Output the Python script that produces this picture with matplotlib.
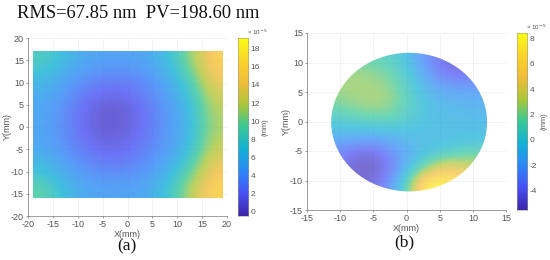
import numpy as np
import matplotlib
matplotlib.use("Agg")
import matplotlib.pyplot as plt
from matplotlib.colors import LinearSegmentedColormap
from matplotlib.patches import Circle

# surface (a), values in 1e-5 mm
a_x = [-19, -14, -9, -4, 1, 6, 11, 15, 19]
a_y = [17, 12, 7, 2, -3, -8, -13, -16]
a_z = [
    [8.5, 6.5, 5.2, 4.8, 4.8, 5.2, 7.0, 11.0, 15.5],
    [6.5, 5.0, 3.6, 3.0, 3.0, 3.8, 5.8, 8.8, 14.5],
    [5.5, 4.0, 2.2, 1.2, 1.5, 3.0, 4.8, 7.2, 12.5],
    [5.0, 3.4, 1.5, 0.2, 0.8, 2.4, 4.4, 6.4, 11.5],
    [5.0, 3.5, 1.7, 0.6, 1.1, 2.6, 4.4, 6.4, 11.5],
    [5.5, 4.0, 2.5, 1.6, 2.0, 3.2, 4.8, 7.2, 12.8],
    [7.0, 5.2, 4.0, 3.2, 3.5, 4.2, 6.0, 9.5, 14.5],
    [9.5, 6.5, 5.2, 4.8, 4.8, 5.4, 7.5, 12.0, 15.8],
]

# surface (b)
b_x = [-12, -9, -6, -3, 0, 3, 6, 9, 12]
b_y = [12, 9, 6, 3, 0, -3, -6, -9, -12]
b_z = [
    [2.0, 1.5, 1.0, 0.8, -0.5, -2.8, -4.2, -4.8, -4.8],
    [2.6, 2.6, 2.4, 1.6, 0.2, -1.8, -3.8, -4.2, -3.8],
    [2.6, 2.8, 2.8, 2.5, 0.8, -0.8, -1.8, -2.0, -2.2],
    [1.6, 2.3, 2.7, 2.5, 1.0, -0.3, -0.9, -1.1, -1.2],
    [0.2, 0.5, 0.9, 0.9, 0.3, -0.4, -0.7, -0.7, -0.8],
    [-1.2, -1.4, -1.6, -1.4, -0.8, -0.6, -0.6, -0.6, -0.6],
    [-3.2, -4.2, -4.5, -3.2, -1.6, -0.6, 0.0, 0.8, 1.2],
    [-3.8, -5.0, -5.4, -4.0, -1.0, 1.8, 5.0, 4.5, 4.0],
    [-3.8, -4.6, -4.6, -2.6, 1.0, 8.0, 8.3, 7.0, 5.0],
]

parula = LinearSegmentedColormap.from_list("parula", [
    "#3e26a8", "#4850f4", "#2d87f7", "#12b1d6", "#37c897",
    "#abc739", "#f0bc3a", "#fcd52a", "#f9fb14"])

W, H = 550, 260
plt.rcParams['font.family'] = ['Liberation Sans']
plt.rcParams['axes.unicode_minus'] = False
fig = plt.figure(figsize=(W / 100, H / 100), dpi=100)
GREY = "#555555"


def box(x0, y0, x1, y1):
    return fig.add_axes([x0 / W, 1 - y1 / H, (x1 - x0) / W, (y1 - y0) / H])


def panel(rect, crect, xs, ys, z, vmin, vmax, lim, ticks, cticks, alpha, extent):
    ax = box(*rect)
    im = ax.imshow(z, cmap=parula, vmin=vmin, vmax=vmax, alpha=alpha, aspect="auto",
                   interpolation="bicubic", zorder=2, extent=extent)
    ax.set_xlim(-lim, lim)
    ax.set_ylim(-lim, lim)
    ax.set_xticks(ticks)
    ax.set_yticks(ticks)
    ax.grid(color="#eeeeee", lw=0.5, zorder=0)
    ax.tick_params(labelsize=6.5, colors=GREY, length=1.5, width=0.4, pad=1.5)
    for s in ["top", "right"]:
        ax.spines[s].set_visible(False)
    for s in ["left", "bottom"]:
        ax.spines[s].set_color("#777777")
        ax.spines[s].set_linewidth(0.5)
    ax.set_xlabel("X(mm)", fontsize=6.5, color=GREY, labelpad=0.5)
    ax.set_ylabel("Y(mm)", fontsize=6.5, color=GREY, labelpad=-1)

    cax = box(*crect)
    grad = np.linspace(vmax, vmin, 256).reshape(-1, 1)
    cax.imshow(grad, cmap=parula, vmin=vmin, vmax=vmax, aspect="auto",
               extent=[0, 1, vmin, vmax])
    cax.set_xticks([])
    cax.yaxis.tick_right()
    cax.set_yticks(cticks)
    cax.tick_params(labelsize=6, colors=GREY, length=0, pad=2)
    for s in cax.spines.values():
        s.set_color("#999999")
        s.set_linewidth(0.4)
    cax.text(0.9, 1.005, "× 10$^{-5}$", transform=cax.transAxes, fontsize=4.5,
             color=GREY, ha="left", va="bottom")
    cax.text(2.6, 0.5, "(mm)", transform=cax.transAxes, fontsize=5.5, color=GREY,
             rotation=90, ha="center", va="center")
    return ax, im


# (a)
ax_a, im_a = panel((28, 38, 227, 216), (237.5, 38, 248, 216), a_x, a_y, a_z,
                   -0.5, 19.2, 20, [-20, -15, -10, -5, 0, 5, 10, 15, 20],
                   [0, 2, 4, 6, 8, 10, 12, 14, 16, 18], 0.8, [-19, 19, -16, 17])

# (b) clipped to the round aperture
ax_b, im_b = panel((307, 33, 506, 210), (516.7, 33, 527.3, 210), b_x, b_y, b_z,
                   -5.5, 8.4, 15, [-15, -10, -5, 0, 5, 10, 15],
                   [-4, -2, 0, 2, 4, 6, 8], 0.72, [-12, 12, -12, 12])
im_b.set_clip_path(Circle((0.4, -0.1), 11.75, transform=ax_b.transData))

fig.text(138 / W, 1 - 14 / H, "RMS=67.85 nm  PV=198.60 nm", family="Liberation Serif",
         fontsize=13.3, color="#111111", ha="center", va="center")
fig.text(127 / W, 1 - 246 / H, "(a)", family="Liberation Serif", fontsize=12.5,
         color="#111111", ha="center", va="center")
fig.text(404 / W, 1 - 242 / H, "(b)", family="Liberation Serif", fontsize=12.5,
         color="#111111", ha="center", va="center")

fig.savefig("out.png", dpi=100)
